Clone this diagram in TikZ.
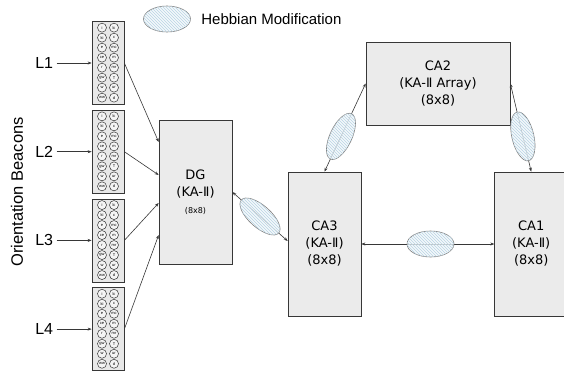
\documentclass[tikz,border=0pt]{standalone}
\usepackage{fontspec}
\setmainfont{Liberation Sans}
\newfontfamily\boxfont{DejaVu Sans}
\usetikzlibrary{shapes.geometric, arrows.meta, positioning, calc, patterns}

\definecolor{boxfill}{RGB}{235,235,235}
\definecolor{edgegray}{RGB}{55,55,55}
\definecolor{hebbfill}{RGB}{240,246,250}
\definecolor{hatch}{RGB}{185,212,228}

\begin{document}
\begin{tikzpicture}[x=1pt, y=-1pt,
    unit/.style={rectangle, draw=edgegray, line width=0.7pt, fill=boxfill, minimum width=73pt, minimum height=144pt, inner sep=0pt, align=center, font=\boxfont\fontsize{13}{17}\selectfont},
    beacon/.style={rectangle, draw=edgegray, line width=0.7pt, fill=gray!18, minimum width=32pt, minimum height=83pt, inner sep=0pt},
    cell/.style={circle, draw=black!80, line width=0.5pt, fill=gray!8, minimum size=9pt, inner sep=0pt, font=\fontsize{4}{4}\selectfont},
    lbl/.style={font=\fontsize{16}{18}\selectfont},
    hebb/.style={ellipse, draw=gray, line width=0.6pt, fill=hebbfill, fill opacity=0.75, postaction={pattern=north west lines, pattern color=hatch}, minimum width=47pt, minimum height=26pt, inner sep=0pt},
    hebbtilt/.style={hebb, minimum width=50pt, minimum height=22pt},
    arrow/.style={-{Stealth[length=4pt, width=3pt]}, edgegray, line width=0.6pt},
    biarrow/.style={{Stealth[length=4pt, width=3pt]}-{Stealth[length=4pt, width=3pt]}, edgegray, line width=0.6pt}
]
    \useasboundingbox (0,0) rectangle (564,372);

    % Legend
    \node[hebb] (leg) at (167,19) {};
    \node[right=7pt of leg, font=\fontsize{15}{17}\selectfont] (legtext) {Hebbian Modification};

    % Beacons
    \node[font=\fontsize{16.5}{18}\selectfont, rotate=90] (orient) at (17,192) {Orientation Beacons};
    \node[beacon] (b1) at (108,63) {};
    \node[beacon, below=5pt of b1] (b2) {};
    \node[beacon, below=5pt of b2] (b3) {};
    \node[beacon, below=5pt of b3] (b4) {};
    \foreach \b in {1,...,4} {
        \node[lbl, left=35pt of b\b] (l\b) {L\b};
        \draw[arrow] (l\b) -- (b\b);
        \foreach [count=\r from 0] \lft/\rgt in {i/lc, ki/c, e/mc, ce/m, r/mr, gw/T, w/ur, ww/d} {
            \node[cell] (c\b\r a) at ($(b\b.north)+(-6,6.5+10*\r)$) {\lft};
            \node[cell] (c\b\r b) at ($(b\b.north)+(6,6.5+10*\r)$) {\rgt};
        }
    }

    % Units
    \node[unit] (dg) at (195.5,192) {DG\\(KA-Ⅱ)\\{\fontsize{8}{10}\selectfont(8x8)}};
    \node[unit] (ca3) at (324.5,244) {CA3\\(KA-Ⅱ)\\(8x8)};
    \node[unit, right=133pt of ca3] (ca1) {CA1\\(KA-Ⅱ)\\(8x8)};
    \node[unit, minimum width=144pt, minimum height=83pt] (ca2) at (438,83.5) {CA2\\(KA-Ⅱ Array)\\(8x8)};

    % Arrows
    \draw[arrow] (b1.east) -- ([yshift=50pt]dg.west);
    \draw[arrow] (b2.east) -- ([yshift=17pt]dg.west);
    \draw[arrow] (b3.east) -- ([yshift=-11pt]dg.west);
    \draw[arrow] (b4.east) -- ([yshift=-43pt]dg.west);
    \draw[biarrow] (dg.east) -- node[hebbtilt, sloped] (h1) {} ([yshift=3pt]ca3.west);
    \draw[biarrow] (ca3.north) -- node[hebbtilt, sloped, pos=0.4] (h2) {} (ca2.west);
    \draw[biarrow] (ca2.east) -- node[hebbtilt, sloped, pos=0.6] (h3) {} (ca1.north);
    \draw[biarrow] (ca3.east) -- node[hebb, pos=0.52] (h4) {} (ca1.west);
\end{tikzpicture}
\end{document}
